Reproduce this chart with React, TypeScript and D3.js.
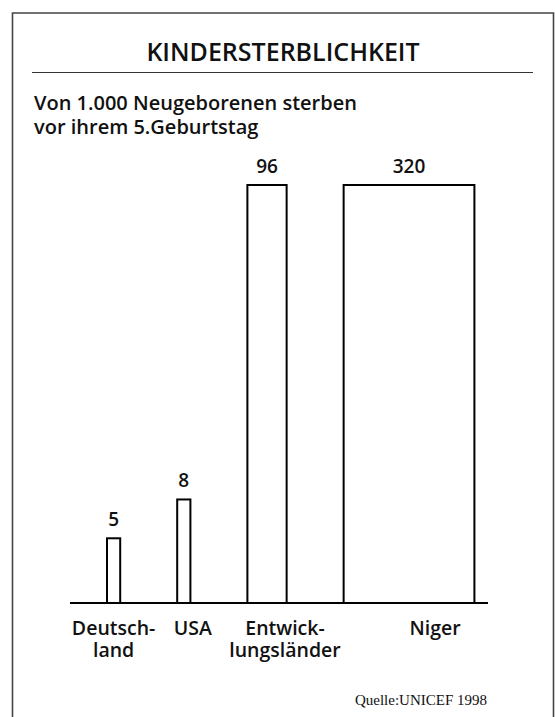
import { useEffect, useRef } from "react";
import * as d3 from "d3";

const categories = ["Deutschland", "USA", "Entwicklungsländer", "Niger"];
const labelLines = [["Deutsch-", "land"], ["USA"], ["Entwick-", "lungsländer"], ["Niger"]];
const deaths = [5, 8, 96, 320];

const title = "KINDERSTERBLICHKEIT";
const subtitle = ["Von 1.000 Neugeborenen sterben", "vor ihrem 5.Geburtstag"];
const source = "Quelle:UNICEF 1998";

export default function App(): JSX.Element {
  const ref = useRef<SVGSVGElement | null>(null);

  useEffect(() => {
    if (!ref.current) return;
    const width = 555;
    const height = 717;
    const font = "'Open Sans', 'Noto Sans', sans-serif";
    const baseY = 603;
    const maxH = 418;
    const minW = 13.2;
    const gap = 57;
    const x0 = 107;

    // area encodes the value: thin bars grow upward until capped, then widen
    const h = d3.scaleLinear().domain([0, 32.3]).range([0, maxH]).clamp(true);
    const bars = deaths.map((v, i) => {
      const bh = h(v);
      const bw = (minW * v) / h.invert(bh);
      return { v, i, bh, bw, x: 0 };
    });
    let cx = x0;
    for (const b of bars) {
      b.x = cx;
      cx += b.bw + gap;
    }
    const labelShift = [0, 9, 18, 26];

    const svg = d3.select(ref.current).attr("width", width).attr("height", height);
    svg.selectAll("*").remove();

    // frame (open at the bottom)
    svg.append("path")
      .attr("d", `M12.5,${height} V13 H553.5 V${height}`)
      .attr("fill", "none")
      .attr("stroke", "#444")
      .attr("stroke-width", 1.6);

    svg.append("text")
      .attr("x", 283)
      .attr("y", 61)
      .attr("text-anchor", "middle")
      .attr("font-family", font)
      .attr("font-weight", 600)
      .attr("font-size", 25)
      .attr("fill", "#111")
      .text(title);

    svg.append("line")
      .attr("x1", 32).attr("x2", 533)
      .attr("y1", 72.5).attr("y2", 72.5)
      .attr("stroke", "#333")
      .attr("stroke-width", 1);

    svg.append("g")
      .selectAll("text")
      .data(subtitle)
      .join("text")
      .attr("x", 34)
      .attr("y", (_, i) => 110 + i * 24)
      .attr("font-family", font)
      .attr("font-weight", 600)
      .attr("font-size", 20)
      .attr("fill", "#111")
      .text((d) => d);

    svg.append("g")
      .selectAll("rect")
      .data(bars)
      .join("rect")
      .attr("x", (d) => d.x)
      .attr("y", (d) => baseY - d.bh)
      .attr("width", (d) => d.bw)
      .attr("height", (d) => d.bh)
      .attr("fill", "#fff")
      .attr("stroke", "#000")
      .attr("stroke-width", 2);

    svg.append("line")
      .attr("x1", 70).attr("x2", 488)
      .attr("y1", baseY).attr("y2", baseY)
      .attr("stroke", "#000")
      .attr("stroke-width", 2);

    svg.append("g")
      .selectAll("text")
      .data(bars)
      .join("text")
      .attr("x", (d) => d.x + d.bw / 2)
      .attr("y", (d) => baseY - d.bh - 12)
      .attr("text-anchor", "middle")
      .attr("font-family", font)
      .attr("font-weight", 600)
      .attr("font-size", 19)
      .attr("fill", "#111")
      .text((d) => String(d.v));

    const lab = svg.append("g")
      .selectAll("text")
      .data(bars)
      .join("text")
      .attr("x", (d) => d.x + d.bw / 2 + labelShift[d.i])
      .attr("y", 635)
      .attr("text-anchor", "middle")
      .attr("font-family", font)
      .attr("font-weight", 600)
      .attr("font-size", 19.5)
      .attr("fill", "#111")
      .attr("aria-label", (d) => categories[d.i]);
    lab.selectAll("tspan")
      .data((d) => labelLines[d.i].map((t) => ({ t, x: d.x + d.bw / 2 + labelShift[d.i] })))
      .join("tspan")
      .attr("x", (d) => d.x)
      .attr("dy", (_, j) => (j === 0 ? 0 : 22))
      .text((d) => d.t);

    svg.append("text")
      .attr("x", 487)
      .attr("y", 705)
      .attr("text-anchor", "end")
      .attr("font-family", "'Liberation Serif', 'Times New Roman', serif")
      .attr("font-size", 15)
      .attr("fill", "#111")
      .text(source);
  }, []);

  return (
    <div style={{ position: "absolute", left: 0, top: 0 }}>
      <svg ref={ref} style={{ display: "block" }} />
    </div>
  );
}
